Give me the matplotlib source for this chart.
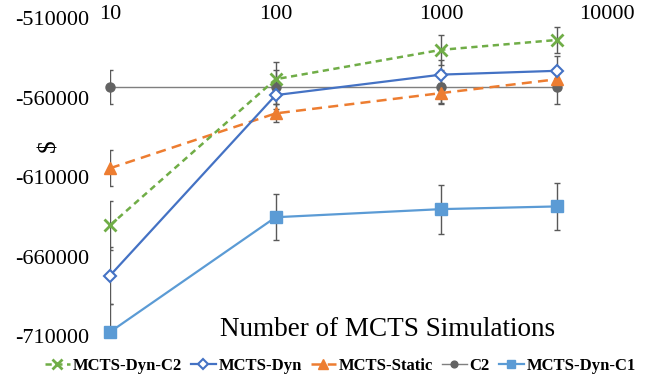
import matplotlib.pyplot as plt

# data
sims = [10, 100, 1000, 5000]

dyn_c2 = [-640400, -548500, -530000, -523800]
dyn_c2_err = [15500, 11000, 9400, 8200]

dyn = [-672000, -558500, -545600, -543200]
dyn_err = [18000, 9000, 9000, 9000]

static = [-604500, -570000, -557200, -548500]
static_err = [11300, 5600, 6500, 7000]

c2 = [-553200, -553200, -553200, -553200]
c2_err = [10600, 10600, 10600, 10600]

dyn_c1 = [-707500, -635300, -630200, -628500]
dyn_c1_err = [17500, 14400, 15400, 15000]

series = [
    # label, values, errors, color, marker, linestyle, line width, marker kwargs
    ("MCTS-Dyn-C1", dyn_c1, dyn_c1_err, "#5B9BD5", "s", "-", 1.6, dict(ms=8)),
    ("C2", c2, c2_err, "#7F7F7F", "o", "-", 1.0, dict(ms=6.5, mfc="#636363", mec="#636363")),
    ("MCTS-Static", static, static_err, "#ED7D31", "^", (0, (4, 2.5)), 1.8, dict(ms=9)),
    ("MCTS-Dyn", dyn, dyn_err, "#4472C4", "D", "-", 1.6, dict(ms=6.5, mfc="white", mew=1.5)),
    ("MCTS-Dyn-C2", dyn_c2, dyn_c2_err, "#70AD47", "x", (0, (2.5, 1.8)), 1.8, dict(ms=9, mew=2)),
]

plt.rcParams["font.family"] = ["Liberation Serif", "DejaVu Serif"]

fig = plt.figure(figsize=(6.57, 3.83), dpi=100)
ax = fig.add_axes([0.1674, 0.1227, 0.7565, 0.8303])

handles = {}
for label, vals, err, color, marker, ls, lw, mk in series:
    ax.errorbar(sims, vals, yerr=err, fmt="none", ecolor="#595959",
                elinewidth=1, capsize=2, capthick=1, zorder=2)
    (h,) = ax.plot(sims, vals, color=color, marker=marker, linestyle=ls,
                   linewidth=lw, clip_on=False, zorder=3, **mk)
    handles[label] = h

ax.set_xscale("log")
ax.set_xlim(10, 10000)
ax.set_ylim(-710000, -510000)
ax.set_yticks([-710000, -660000, -610000, -560000, -510000])
ax.set_yticklabels(["-710000", "-660000", "-610000", "-560000", "-510000"])
ax.set_xticks([10, 100, 1000, 10000])
ax.set_xticklabels(["10", "100", "1000", "10000"])
ax.minorticks_off()
ax.xaxis.set_ticks_position("top")
ax.tick_params(axis="x", length=0, pad=-4, labelsize=16)
ax.tick_params(axis="y", length=0, pad=15, labelsize=16)

for s in ax.spines.values():
    s.set_visible(False)

ax.set_ylabel("$", fontsize=18, rotation=90)
ax.yaxis.set_label_coords(-0.1006, 0.60)

ax.text(0.559, 0.0, "Number of MCTS Simulations", transform=ax.transAxes,
        ha="center", va="baseline", fontsize=19.5)

order = ["MCTS-Dyn-C2", "MCTS-Dyn", "MCTS-Static", "C2", "MCTS-Dyn-C1"]
fig.legend([handles[k] for k in order], order, loc="center",
           bbox_to_anchor=(0.518, 0.044), ncol=5, frameon=False,
           prop=dict(weight="bold", size=12), handlelength=1.5,
           handletextpad=0.15, columnspacing=0.55, markerscale=0.75,
           borderpad=0)

fig.savefig("out.png", dpi=100)
